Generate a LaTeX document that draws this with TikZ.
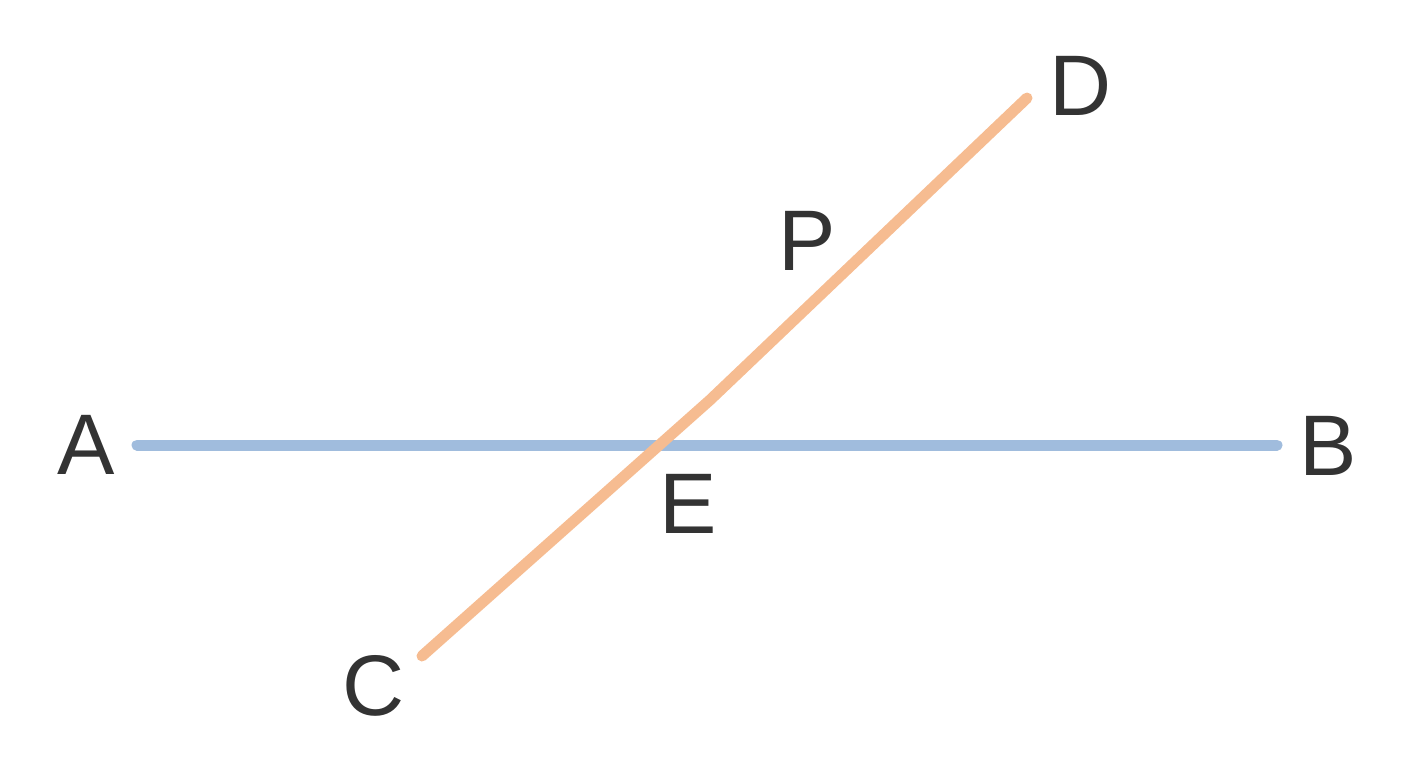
\documentclass[tikz,border=0pt]{standalone}
\usepackage{fontspec}
\setmainfont{Liberation Sans}
\definecolor{lineblue}{HTML}{A0BCDD}
\definecolor{lineorange}{HTML}{F6BC91}
\definecolor{labelgray}{HTML}{333333}
\begin{document}
\begin{tikzpicture}[x=0.5pt,y=-0.5pt,
  lbl/.style={inner sep=0pt, text height=30.5pt, text depth=0pt, text=labelgray, font=\fontsize{43}{50}\selectfont},
  seg/.style={line width=5.5pt, line cap=round}]
\useasboundingbox (0,0) rectangle (1408,768);
\coordinate (pA) at (137,445);
\coordinate (pB) at (1277,445);
\coordinate (pC) at (422,656);
\coordinate (pD) at (1027,98);
\coordinate (bend) at (710,400);
\node[lbl] (A) at (86,444) {A};
\node[lbl] (B) at (1328,445) {B};
\node[lbl] (C) at (374,685) {C};
\node[lbl] (D) at (1081,85) {D};
\node[lbl] (P) at (807,240) {P};
\node[lbl] (E) at (688,503) {E};
\draw[seg, lineblue] (pA) -- (pB);
\draw[seg, lineorange, line join=round] (pC) -- (bend) -- (pD);
\end{tikzpicture}
\end{document}
